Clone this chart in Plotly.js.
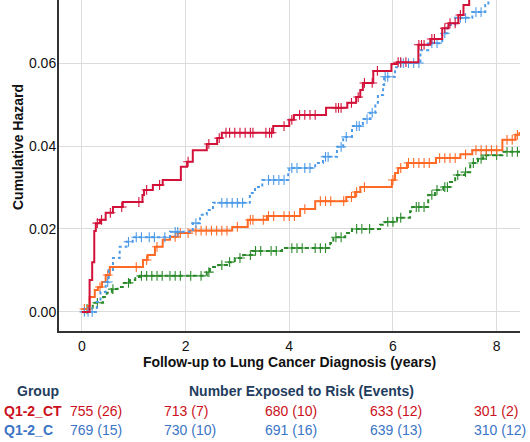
<!DOCTYPE html>
<html><head><meta charset="utf-8">
<script src="https://cdn.plot.ly/plotly-3.0.1.min.js"></script>
<style>body{margin:0;padding:0;background:#fff}#chart{width:530px;height:442px}</style>
</head><body><div id="chart"></div>
<script>
// ---- data ----
const redT = [0,0.15,0.2,0.24,0.27,0.35,0.46,0.6,0.79,1.17,1.2,1.37,1.56,1.91,2.03,2.14,2.41,2.61,2.7,3.69,4.0,4.09,4.71,5.12,5.29,5.37,5.42,5.62,5.97,6.08,6.49,6.72,6.95,7.07,7.26,7.36,7.47,7.8,8.45];
const redV = [0,0.0077,0.012,0.0195,0.0214,0.0222,0.0239,0.0253,0.0265,0.0282,0.0294,0.0306,0.0318,0.035,0.0362,0.039,0.0405,0.0419,0.0432,0.0448,0.0463,0.0475,0.0492,0.0504,0.0518,0.0535,0.0552,0.0581,0.0598,0.0602,0.0644,0.0658,0.0684,0.0696,0.0716,0.074,0.078,0.082,0.085];
const redCens = [0.3,0.38,0.55,0.77,1.1,1.25,1.5,2.05,2.45,2.65,2.78,2.85,2.95,3.05,3.15,3.25,3.3,3.55,3.62,3.66,3.9,4.05,4.2,4.3,4.4,4.5,4.9,4.95,5.0,5.2,5.33,5.45,5.6,5.7,6.1,6.15,6.25,6.5,6.55,6.6,6.75,6.8,7.0,7.1,7.2,7.3];

const blueT = [0,0.29,0.36,0.46,0.52,0.6,0.73,0.86,0.98,1.7,2.14,2.28,2.41,2.53,3.24,3.34,3.48,3.98,4.0,4.5,4.65,4.92,5.04,5.21,5.42,5.56,5.66,5.71,5.81,5.83,6.04,6.1,6.53,6.68,6.95,7.05,7.2,7.53,7.78,7.84,8.45];
const blueV = [0,0.0024,0.0048,0.0072,0.0101,0.013,0.0157,0.0169,0.018,0.0193,0.0214,0.0234,0.0246,0.0263,0.0287,0.0301,0.0318,0.0335,0.0347,0.0359,0.0374,0.0398,0.0422,0.0448,0.0465,0.048,0.0504,0.0523,0.0547,0.0567,0.059,0.06,0.0631,0.0648,0.0672,0.0692,0.0709,0.0723,0.074,0.0765,0.082];
const blueCens = [0.05,0.12,0.2,0.5,0.9,1.05,1.15,1.3,1.4,1.6,1.8,1.85,2.2,2.7,2.8,2.9,3.0,3.1,3.6,3.7,3.8,3.9,4.05,4.15,4.3,4.4,4.7,4.75,5.0,5.1,5.3,5.35,5.5,5.6,5.85,5.9,6.15,6.2,6.3,6.4,6.5,6.75,6.85,7.0,7.3,7.4,7.6,7.7];

const orangeT = [0,0.12,0.15,0.25,0.31,0.39,0.46,0.54,1.18,1.27,1.41,1.56,1.7,1.85,2.08,2.9,3.2,3.57,4.21,4.5,5.1,5.27,5.37,5.98,6.04,6.1,6.27,6.83,7.3,7.53,8.11,8.36,8.44];
const orangeV = [0.0007,0.0014,0.0036,0.0053,0.006,0.0072,0.0089,0.0108,0.0125,0.0137,0.0157,0.0174,0.0181,0.019,0.0196,0.0205,0.0222,0.0231,0.0248,0.0267,0.0277,0.0289,0.0301,0.0318,0.0335,0.0347,0.0359,0.0371,0.038,0.039,0.0415,0.0427,0.0434];
const orangeCens = [0.05,0.35,0.5,1.05,1.25,1.45,1.8,1.9,2.05,2.2,2.3,2.4,2.5,2.6,2.7,2.8,3.0,3.25,3.3,3.5,3.6,3.7,3.9,4.0,4.1,4.3,4.6,4.7,4.8,5.05,5.2,5.3,5.45,6.0,6.15,6.3,6.4,6.5,6.6,6.7,6.9,7.0,7.1,7.2,7.4,7.6,7.7,7.8,7.9,8.0,8.2,8.3,8.4];

const greenT = [0,0.06,0.21,0.41,0.48,0.58,0.69,0.79,0.93,1.03,1.12,2.41,2.47,2.63,2.8,2.95,3.11,3.28,3.86,4.79,4.85,5.08,5.21,5.75,5.85,6.08,6.33,6.37,6.68,6.81,6.97,7.1,7.2,7.39,7.49,7.64,7.74,8.11,8.45];
const greenV = [0,0.0007,0.0022,0.0036,0.0046,0.0055,0.006,0.007,0.0077,0.0084,0.0087,0.0096,0.0108,0.0113,0.012,0.013,0.0137,0.0147,0.0154,0.0166,0.018,0.019,0.02,0.021,0.0217,0.0227,0.0243,0.0253,0.0282,0.0294,0.0301,0.0313,0.033,0.0337,0.0359,0.0369,0.0378,0.0386,0.0386];
const greenCens = [0.1,0.3,0.6,0.9,1.15,1.25,1.35,1.45,1.55,1.7,1.8,1.9,2.1,2.3,2.45,2.7,2.85,3.05,3.25,3.35,3.45,3.65,3.75,4.05,4.15,4.25,4.5,4.6,4.7,4.9,5.0,5.3,5.4,5.55,5.9,6.0,6.15,6.45,6.5,6.6,6.75,6.85,7.0,7.05,7.25,7.4,7.55,7.7,7.8,8.0,8.2,8.3,8.4];

const xTicks = [0,2,4,6,8];
const yTicks = [0,0.02,0.04,0.06];

const groupNames = ['Q1-2_CT','Q1-2_C'];
const riskCT = ['755 (26)','713 (7)','680 (10)','633 (12)','301 (2)'];
const riskC  = ['769 (15)','730 (10)','691 (16)','639 (13)','310 (12)'];

// ---- styles ----
const RED='#d3123a', BLUE='#4d9be8', ORANGE='#ff6a26', GREEN='#2b8a2b';
const FONT='Arial, "Liberation Sans", sans-serif';

function stepAt(xs, ys, t){ let v=ys[0]; for(let i=0;i<xs.length;i++){ if(xs[i]<=t) v=ys[i]; } return v; }

function series(xs, ys, cens, color, dash){
  return [
    {x:xs, y:ys, type:'scatter', mode:'lines', line:{shape:'hv', color:color, width:2, dash:dash}, hoverinfo:'skip', showlegend:false},
    {x:cens, y:cens.map(t=>stepAt(xs,ys,t)), type:'scatter', mode:'markers',
     marker:{symbol:'cross-thin', size:7, color:color, line:{width:1.1, color:color}}, showlegend:false, hoverinfo:'skip'}
  ];
}

const traces = [].concat(
  series(greenT, greenV, greenCens, GREEN, '4px,3px'),
  series(orangeT, orangeV, orangeCens, ORANGE, 'solid'),
  series(blueT, blueV, blueCens, BLUE, '3px,3px'),
  series(redT, redV, redCens, RED, 'solid')
);

const W=461, H=331; // plot size px
function px(p){ return (p-59)/W; }
function py(p){ return (H-p)/H; }
const colPx=[68,162,263,368,472];
const ann=[];
ann.push({xref:'paper',yref:'paper',x:px(18),y:py(147),text:'<b>Cumulative Hazard</b>',textangle:-90,showarrow:false,font:{family:FONT,size:14,color:'#111'},xanchor:'center',yanchor:'middle'});
ann.push({xref:'paper',yref:'paper',x:px(15),y:py(391),text:'<b>Group</b>',showarrow:false,xanchor:'left',yanchor:'middle',font:{family:FONT,size:14,color:'#1f3d5e'}});
ann.push({xref:'paper',yref:'paper',x:px(301),y:py(391),text:'<b>Number Exposed to Risk (Events)</b>',showarrow:false,xanchor:'center',yanchor:'middle',font:{family:FONT,size:14,color:'#1f3d5e'}});
ann.push({xref:'paper',yref:'paper',x:px(2),y:py(411),text:'<b>'+groupNames[0]+'</b>',showarrow:false,xanchor:'left',yanchor:'middle',font:{family:FONT,size:14,color:'#cc1020'}});
ann.push({xref:'paper',yref:'paper',x:px(2),y:py(430),text:'<b>'+groupNames[1]+'</b>',showarrow:false,xanchor:'left',yanchor:'middle',font:{family:FONT,size:14,color:'#3a74c6'}});
riskCT.forEach((s,i)=>ann.push({xref:'paper',yref:'paper',x:px(colPx[i]),y:py(411),text:s,showarrow:false,xanchor:'left',yanchor:'middle',font:{family:FONT,size:14,color:'#cc1020'}}));
riskC.forEach((s,i)=>ann.push({xref:'paper',yref:'paper',x:px(colPx[i]),y:py(430),text:s,showarrow:false,xanchor:'left',yanchor:'middle',font:{family:FONT,size:14,color:'#3a74c6'}}));

const layout = {
  width:530, height:442,
  margin:{l:59, r:10, t:0, b:111, pad:0},
  paper_bgcolor:'#fff', plot_bgcolor:'#fff',
  showlegend:false,
  font:{family:FONT, size:14, color:'#111'},
  xaxis:{range:[-0.44,8.45], tickvals:xTicks, ticktext:xTicks.map(String), showgrid:true, gridcolor:'#dcdcdc', gridwidth:1,
    zeroline:false, showline:true, linecolor:'#333', linewidth:2, ticks:'', ticklabelstandoff:1,
    tickfont:{family:FONT,size:14,color:'#111'},
    title:{text:'<b>Follow-up to Lung Cancer Diagnosis (years)</b>', font:{family:FONT,size:14,color:'#111'}, standoff:4}},
  yaxis:{range:[-0.0046,0.0752], tickvals:yTicks, ticktext:yTicks.map(v=>v.toFixed(2)), showgrid:true, gridcolor:'#dcdcdc', gridwidth:1,
    zeroline:false, showline:true, linecolor:'#333', linewidth:2, ticks:'', ticklabelstandoff:-2,
    tickfont:{family:FONT,size:14,color:'#111'}},
  annotations:ann
};
Plotly.newPlot('chart', traces, layout, {displayModeBar:false, staticPlot:true});
</script>
</body></html>
